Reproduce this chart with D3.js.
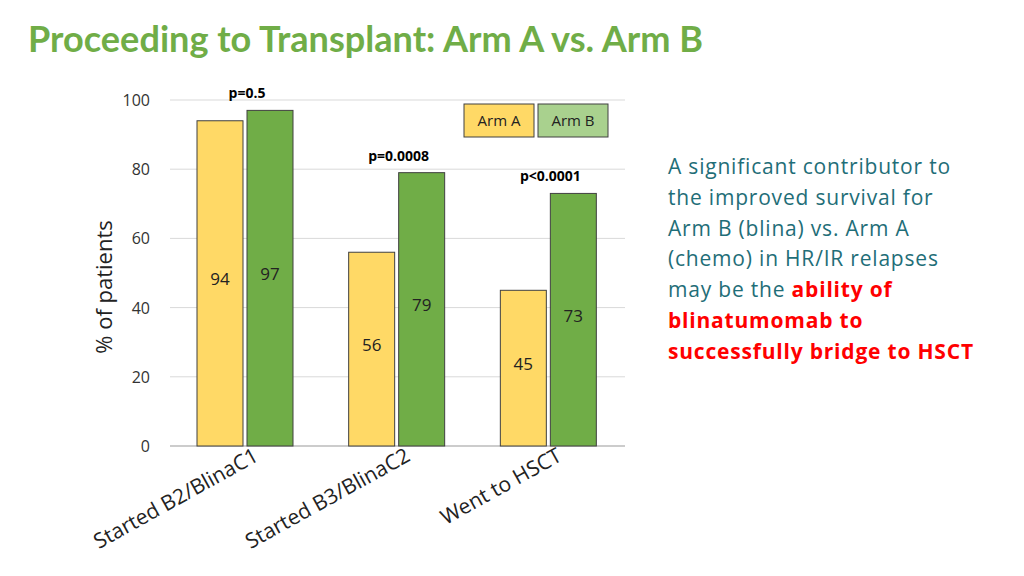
<!DOCTYPE html>
<html><head><meta charset="utf-8">
<script src="https://d3js.org/d3.v7.min.js"></script>
<style>body{margin:0;background:#fff;font-family:'Open Sans',sans-serif}</style>
</head><body>
<svg id="c" width="1024" height="576"></svg>
<script>
const categories = ["Started B2/BlinaC1","Started B3/BlinaC2","Went to HSCT"];
const series = ["Arm A","Arm B"];
const armA = [94,56,45];
const armB = [97,79,73];
const pvals = ["p=0.5","p=0.0008","p<0.0001"];
const yTicks = [0,20,40,60,80,100];
const colors = ["#FFD966","#70AD47"];
const legendColors = ["#FFD966","#A9D18E"];

const svg = d3.select("#c");
svg.append("text").attr("x",28).attr("y",52).attr("fill","#70AD47")
  .attr("font-family","Lato").attr("font-weight","bold").attr("font-size",36)
  .attr("textLength",675).attr("lengthAdjust","spacingAndGlyphs")
  .text("Proceeding to Transplant: Arm A vs. Arm B");

const x = d3.scaleBand().domain(categories).range([170,625]).paddingInner(0).paddingOuter(0);
const y = d3.scaleLinear().domain([0,100]).range([446,100]);
const xs = d3.scaleBand().domain(series).range([27,123]).paddingInner(0.08);

const g = svg.append("g");
g.selectAll("line.grid").data(yTicks).join("line")
  .attr("x1",170).attr("x2",625).attr("y1",d=>y(d)).attr("y2",d=>y(d))
  .attr("stroke",d=>d===0?"#999":"#d9d9d9").attr("stroke-width",1);
g.selectAll("text.yt").data(yTicks).join("text")
  .attr("x",150).attr("y",d=>y(d)+6).attr("text-anchor","end")
  .attr("font-size",16).attr("fill","#333").text(d=>d);

svg.append("text").attr("transform","translate(112,287) rotate(-90)")
  .attr("text-anchor","middle").attr("font-size",22).attr("fill","#222").text("% of patients");

const data = categories.map((c,i)=>({c,vals:[armA[i],armB[i]],p:pvals[i]}));
const grp = g.selectAll("g.cat").data(data).join("g").attr("transform",d=>`translate(${x(d.c)},0)`);
grp.selectAll("rect").data(d=>d.vals.map((v,j)=>({v,s:series[j],j}))).join("rect")
  .attr("x",d=>xs(d.s)).attr("width",xs.bandwidth()).attr("y",d=>y(d.v)).attr("height",d=>y(0)-y(d.v))
  .attr("fill",d=>colors[d.j]).attr("stroke","#404040").attr("stroke-width",1);
grp.selectAll("text.v").data(d=>d.vals.map((v,j)=>({v,s:series[j]}))).join("text")
  .attr("x",d=>xs(d.s)+xs.bandwidth()/2).attr("y",d=>y(d.v/2)+2).attr("text-anchor","middle")
  .attr("font-size",17).attr("fill","#222").text(d=>d.v);
grp.append("text").attr("x",d=>xs("Arm B")).attr("y",d=>y(d3.max(d.vals))-12)
  .attr("text-anchor","middle").attr("font-size",14).attr("font-weight","bold").attr("fill","#000").text(d=>d.p);
grp.append("text").attr("transform",d=>`translate(${x.bandwidth()/2+14},460) rotate(-29)`)
  .attr("text-anchor","end").attr("font-size",21).attr("fill","#222").text(d=>d.c);

const lg = svg.append("g");
series.forEach((s,i)=>{
  lg.append("rect").attr("x",464+i*74).attr("y",104).attr("width",70).attr("height",33)
    .attr("fill",legendColors[i]).attr("stroke","#404040");
  lg.append("text").attr("x",499+i*74).attr("y",126).attr("text-anchor","middle")
    .attr("font-size",15).attr("fill","#222").text(s);
});

const lines = [
 [["A significant contributor to","#1F6E78",false]],
 [["the improved survival for","#1F6E78",false]],
 [["Arm B (blina) vs. Arm A","#1F6E78",false]],
 [["(chemo) in HR/IR relapses","#1F6E78",false]],
 [["may be the ","#1F6E78",false],["ability of","#FF0000",true]],
 [["blinatumomab to","#FF0000",true]],
 [["successfully bridge to HSCT","#FF0000",true]]
];
lines.forEach((ln,i)=>{
  const t = svg.append("text").attr("x",668).attr("y",174+i*30.8).attr("font-size",21)
    .attr("letter-spacing",0.8);
  ln.forEach(([s,c,b])=>t.append("tspan").attr("fill",c).attr("font-weight",b?"bold":"normal").text(s));
});
</script>
</body></html>
